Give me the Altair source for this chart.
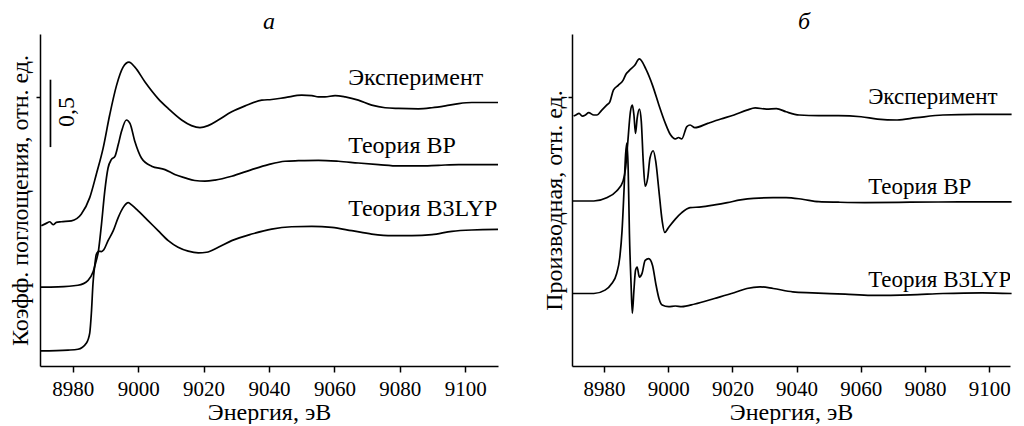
import altair as alt
import pandas as pd

# ---------- Panel а: absorption (XANES) ----------
exp_a_E = [8970.4, 8971.9, 8973.0, 8974.0, 8975.0, 8976.5, 8979.6, 8982.6, 8985.2, 8987.2, 8989.3, 8991.3,
           8993.4, 8995.4, 8997.2, 8999.0, 9002.1, 9006.1, 9009.2, 9013.3, 9016.3, 9018.9, 9021.4, 9024.5,
           9028.6, 9032.7, 9037.8, 9040.8, 9044.9, 9050.0, 9053.1, 9055.1, 9057.1, 9060.2, 9063.3, 9067.3,
           9071.4, 9075.5, 9079.6, 9085.7, 9089.8, 9093.9, 9098.0, 9102.0, 9110.0]
exp_a_v = [1.040, 1.058, 1.070, 1.048, 1.065, 1.070, 1.077, 1.126, 1.249, 1.421, 1.616, 1.862,
           2.082, 2.217, 2.254, 2.217, 2.107, 1.984, 1.910, 1.825, 1.783, 1.768, 1.783, 1.825,
           1.886, 1.930, 1.972, 1.977, 1.991, 2.009, 2.006, 1.996, 1.996, 2.006, 1.996, 1.972,
           1.935, 1.916, 1.911, 1.908, 1.916, 1.930, 1.947, 1.955, 1.955]

bp_a_E = [8970.0, 8975.5, 8981.6, 8984.7, 8986.2, 8987.2, 8987.8, 8988.8, 8989.8, 8990.8, 8991.8, 8992.9,
          8993.9, 8994.9, 8996.4, 8997.5, 8999.0, 9001.0, 9004.1, 9008.2, 9011.2, 9014.3, 9017.3, 9020.4,
          9023.5, 9028.6, 9034.7, 9039.8, 9044.9, 9049.0, 9055.1, 9061.2, 9067.3, 9073.5, 9079.6, 9085.7,
          9091.8, 9098.0, 9110.0]
bp_a_v = [0.585, 0.587, 0.599, 0.636, 0.697, 0.783, 0.844, 1.053, 1.298, 1.469, 1.531, 1.555,
          1.641, 1.739, 1.825, 1.800, 1.665, 1.543, 1.482, 1.457, 1.421, 1.396, 1.376, 1.371,
          1.379, 1.408, 1.457, 1.494, 1.519, 1.523, 1.526, 1.519, 1.506, 1.494, 1.484, 1.484,
          1.489, 1.494, 1.494]

b3_a_E = [8970.0, 8978.6, 8981.6, 8984.2, 8985.2, 8985.7, 8986.2, 8986.8, 8987.2, 8988.0, 8988.8, 8989.5,
          8990.8, 8992.4, 8993.9, 8995.4, 8997.0, 8998.0, 9000.0, 9003.1, 9006.1, 9009.2, 9012.2, 9015.3,
          9018.4, 9020.9, 9024.5, 9028.6, 9034.7, 9040.8, 9046.9, 9053.1, 9059.2, 9065.3, 9071.4, 9077.6,
          9083.7, 9089.8, 9095.9, 9102.0, 9110.0]
b3_a_v = [0.112, 0.118, 0.124, 0.171, 0.244, 0.391, 0.612, 0.759, 0.827, 0.851, 0.849, 0.862,
          0.930, 1.004, 1.101, 1.175, 1.212, 1.195, 1.151, 1.077, 1.004, 0.930, 0.881, 0.852,
          0.839, 0.844, 0.881, 0.930, 0.979, 1.016, 1.033, 1.036, 1.028, 1.004, 0.979, 0.967,
          0.967, 0.974, 0.999, 1.009, 1.013]

# ---------- Panel б: derivative ----------
exp_b_E = [8970.5, 8971.2, 8972.2, 8973.2, 8974.2, 8975.2, 8976.8, 8977.8, 8979.3, 8980.8, 8981.8, 8982.9,
           8984.4, 8985.9, 8986.9, 8987.9, 8989.5, 8991.0, 8993.0, 8995.1, 8997.1, 8999.1, 9000.7, 9002.2,
           9003.2, 9004.2, 9005.8, 9006.8, 9008.3, 9012.3, 9016.4, 9020.5, 9024.5, 9027.1, 9030.6, 9033.7,
           9036.7, 9040.8, 9046.9, 9053.0, 9060.1, 9065.2, 9071.3, 9077.4, 9085.6, 9095.7, 9107.0]
exp_b_v = [1.855, 1.862, 1.874, 1.854, 1.862, 1.879, 1.862, 1.862, 1.898, 1.935, 1.960, 2.046,
           2.082, 2.119, 2.168, 2.193, 2.229, 2.278, 2.204, 2.082, 1.935, 1.800, 1.715, 1.685,
           1.695, 1.685, 1.776, 1.788, 1.768, 1.800, 1.832, 1.862, 1.898, 1.915, 1.906, 1.910,
           1.886, 1.862, 1.857, 1.857, 1.849, 1.832, 1.825, 1.842, 1.862, 1.866, 1.866]

bp_b_E = [8970.2, 8976.8, 8980.8, 8983.9, 8985.9, 8986.7, 8987.4, 8988.2, 8988.8, 8989.3, 8989.8, 8990.3,
          8991.0, 8991.6, 8992.2, 8992.8, 8993.6, 8994.3, 8995.3, 8996.1, 8997.1, 8998.1, 8998.9, 9000.1,
          9002.2, 9004.2, 9006.8, 9010.3, 9014.4, 9018.4, 9022.5, 9026.6, 9032.7, 9036.7, 9041.8, 9046.9,
          9053.0, 9061.2, 9075.4, 9090.7, 9107.0]
bp_b_v = [1.224, 1.224, 1.248, 1.298, 1.371, 1.469, 1.665, 1.886, 1.935, 1.862, 1.726, 1.837,
          1.906, 1.813, 1.518, 1.335, 1.396, 1.543, 1.597, 1.518, 1.298, 1.077, 0.991, 1.028,
          1.090, 1.138, 1.175, 1.180, 1.195, 1.212, 1.232, 1.244, 1.249, 1.249, 1.237, 1.219,
          1.215, 1.212, 1.215, 1.217, 1.217]

b3_b_E = [8970.2, 8976.8, 8980.3, 8982.4, 8983.9, 8984.9, 8985.6, 8986.2, 8986.7, 8987.1, 8987.5, 8987.9,
          8988.4, 8988.8, 8989.3, 8989.8, 8990.3, 8991.0, 8991.8, 8992.8, 8993.9, 8995.1, 8996.1, 8997.1,
          8998.1, 9000.1, 9002.2, 9004.2, 9008.3, 9014.4, 9020.5, 9024.5, 9028.6, 9032.7, 9038.8, 9044.9,
          9055.1, 9063.2, 9075.4, 9085.6, 9097.8, 9107.0]
b3_b_v = [0.538, 0.538, 0.563, 0.612, 0.685, 0.807, 1.004, 1.298, 1.568, 1.653, 1.469, 0.979,
          0.612, 0.391, 0.563, 0.710, 0.734, 0.660, 0.685, 0.783, 0.796, 0.746, 0.612, 0.501,
          0.452, 0.440, 0.445, 0.440, 0.460, 0.501, 0.543, 0.575, 0.587, 0.575, 0.550, 0.543,
          0.533, 0.524, 0.528, 0.538, 0.543, 0.538]

series_names = ["Эксперимент", "Теория BP", "Теория B3LYP"]

# curve labels
lab_a_E = [9064.2, 9064.2, 9064.2]
lab_a_v = [2.085, 1.579, 1.114]
lab_b_E = [9062.3, 9062.3, 9062.3]
lab_b_v = [1.947, 1.274, 0.587]

# scale bar (0,5 units) in panel а
bar_E = [8973.2]
bar_lo = [1.624]
bar_hi = [2.124]
bar_text = ["0,5"]
bar_text_E = [8978.2]
bar_text_v = [1.885]

x_ticks = list(range(8980, 9101, 10))
y_tick = [1.996]

FONT = "Liberation Serif"


def long_df(pairs):
    rows = []
    for name, E, v in pairs:
        for e, y in zip(E, v):
            rows.append({"E": e, "v": y, "s": name})
    return pd.DataFrame(rows)


df_a = long_df(zip(series_names, [exp_a_E, bp_a_E, b3_a_E], [exp_a_v, bp_a_v, b3_a_v]))
df_b = long_df(zip(series_names, [exp_b_E, bp_b_E, b3_b_E], [exp_b_v, bp_b_v, b3_b_v]))
lab_a = pd.DataFrame({"E": lab_a_E, "v": lab_a_v, "t": series_names})
lab_b = pd.DataFrame({"E": lab_b_E, "v": lab_b_v, "t": series_names})
bar_df = pd.DataFrame({"E": bar_E, "lo": bar_lo, "hi": bar_hi})
bar_t_df = pd.DataFrame({"E": bar_text_E, "v": bar_text_v, "t": bar_text})

Y_DOMAIN = [0, 2.463]
PLOT_H = 332


def make_panel(df, lab, domain, width, title, ytitle, title_dx, ytitle_pad, lab_size, extra=None):
    xscale = alt.Scale(domain=domain, nice=False, zero=False)
    yscale = alt.Scale(domain=Y_DOMAIN, nice=False, zero=False)
    xaxis = alt.Axis(
        values=x_ticks,
        format="d",
        labelExpr="datum.value % 20 === 0 ? datum.label : ''",
        tickSize={"condition": {"test": "datum.value % 20 === 0", "value": 6}, "value": 4},
        labelPadding=6,
        labelFontSize=21,
        titlePadding=1,
        titleFontSize=24,
        labelFlush=False,
        labelOverlap=False,
    )
    yaxis = alt.Axis(values=y_tick, labels=False, tickSize=4, titlePadding=ytitle_pad,
                     titleFontSize=24)
    x = alt.X("E:Q", scale=xscale, axis=xaxis, title="Энергия, эВ")
    y = alt.Y("v:Q", scale=yscale, axis=yaxis, title=ytitle)

    lines = alt.Chart(df).mark_line(color="black", strokeWidth=1.7, interpolate="monotone").encode(
        x=x, y=y, detail="s:N"
    )
    texts = alt.Chart(lab).mark_text(
        align="left", baseline="alphabetic", font=FONT, fontSize=lab_size, color="black", clip=True
    ).encode(x="E:Q", y="v:Q", text="t:N")
    layers = [lines, texts]
    if extra:
        layers += extra
    return alt.layer(*layers).properties(
        width=width,
        height=PLOT_H,
        title=alt.Title(title, font=FONT, fontStyle="italic", fontWeight="normal",
                        fontSize=24, color="black", offset=0, dx=title_dx),
    )


bar_rule = alt.Chart(bar_df).mark_rule(color="black", strokeWidth=1.7).encode(
    x="E:Q", y="lo:Q", y2="hi:Q"
)
bar_label = alt.Chart(bar_t_df).mark_text(
    font=FONT, fontSize=24, angle=270, align="center", baseline="middle", color="black"
).encode(x="E:Q", y="v:Q", text="t:N")

left = make_panel(df_a, lab_a, [8970, 9110], 458, "а", "Коэфф. поглощения, отн. ед.", 0, 3, 24,
                  extra=[bar_rule, bar_label])
right = make_panel(df_b, lab_b, [8970, 9106.5], 438, "б", "Производная, отн. ед.", 13, 1, 23)

chart = alt.hconcat(
    left, right, spacing=74, bounds="flush",
    padding={"top": 2, "left": 0, "right": 0, "bottom": 0},
).resolve_scale(
    x="independent", y="independent"
).configure_view(
    stroke=None
).configure_axis(
    grid=False,
    domainColor="black",
    domainWidth=1.5,
    tickColor="black",
    tickWidth=1.5,
    labelColor="black",
    titleColor="black",
    labelFont=FONT,
    titleFont=FONT,
    titleFontWeight="normal",
)

chart.save("out.html", embed_options={"renderer": "svg", "actions": False})
